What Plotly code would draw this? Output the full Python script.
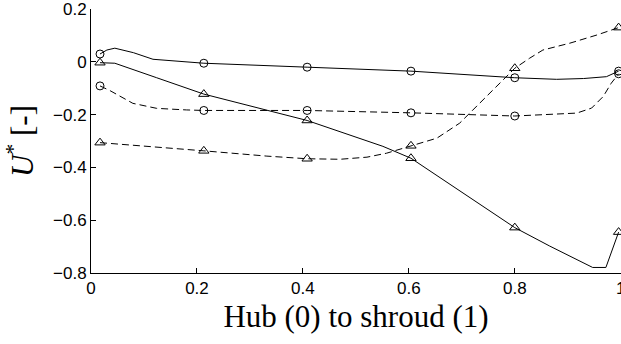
import plotly.graph_objects as go

# Marker positions (hub to shroud)
marker_x = [0.017, 0.213, 0.408, 0.604, 0.8, 0.996]

# Series A: solid line, circles
a_marker_y = [0.03, -0.005, -0.02, -0.035, -0.06, -0.035]
a_line_x = [0.017, 0.03, 0.045, 0.08, 0.117, 0.168, 0.213, 0.408, 0.604, 0.8, 0.842, 0.879, 0.93, 0.973, 0.996]
a_line_y = [0.03, 0.045, 0.052, 0.035, 0.01, 0.001, -0.005, -0.02, -0.035, -0.06, -0.064, -0.066, -0.063, -0.056, -0.035]

# Series B: solid line, triangles
b_marker_y = [-0.003, -0.122, -0.222, -0.365, -0.628, -0.645]
b_line_x = [0.017, 0.045, 0.124, 0.213, 0.408, 0.551, 0.604, 0.8, 0.866, 0.947, 0.972, 0.996]
b_line_y = [-0.003, -0.005, -0.06, -0.122, -0.222, -0.32, -0.365, -0.628, -0.698, -0.779, -0.779, -0.645]

# Series C: dashed line, circles
c_marker_y = [-0.091, -0.184, -0.184, -0.193, -0.205, -0.045]
c_line_x = [0.017, 0.036, 0.079, 0.124, 0.18, 0.213, 0.408, 0.604, 0.8, 0.917, 0.945, 0.967, 0.982, 0.996]
c_line_y = [-0.091, -0.109, -0.157, -0.176, -0.182, -0.184, -0.184, -0.193, -0.205, -0.194, -0.175, -0.131, -0.081, -0.045]

# Series D: dashed line, triangles
d_marker_y = [-0.306, -0.337, -0.367, -0.318, -0.024, 0.13]
d_line_x = [0.017, 0.1, 0.213, 0.332, 0.408, 0.47, 0.521, 0.558, 0.604, 0.653, 0.696, 0.728, 0.766, 0.8, 0.828, 0.853, 0.904, 0.955, 0.996]
d_line_y = [-0.306, -0.318, -0.337, -0.357, -0.367, -0.369, -0.361, -0.346, -0.318, -0.289, -0.232, -0.169, -0.093, -0.024, 0.014, 0.045, 0.071, 0.102, 0.13]

x_ticks = [0, 0.2, 0.4, 0.6, 0.8, 1]
x_ticktext = ["0", "0.2", "0.4", "0.6", "0.8", "1"]
y_ticks = [-0.8, -0.6, -0.4, -0.2, 0, 0.2]
y_ticktext = ["\u22120.8", "\u22120.6", "\u22120.4", "\u22120.2", "0", "0.2"]

DASH = "7px,4px"
fig = go.Figure()

series = [
    (a_line_x, a_line_y, a_marker_y, "solid", "circle-open", 8),
    (b_line_x, b_line_y, b_marker_y, "solid", "triangle-up-open", 9),
    (c_line_x, c_line_y, c_marker_y, DASH, "circle-open", 8),
    (d_line_x, d_line_y, d_marker_y, DASH, "triangle-up-open", 9),
]
for lx, ly, my, dash, sym, sz in series:
    fig.add_trace(go.Scatter(x=lx, y=ly, mode="lines",
                             line=dict(color="black", width=1, dash=dash),
                             showlegend=False, hoverinfo="skip", cliponaxis=False))
    fig.add_trace(go.Scatter(x=marker_x, y=my, mode="markers",
                             marker=dict(symbol=sym, size=sz, color="black",
                                         line=dict(color="black", width=1)),
                             showlegend=False, cliponaxis=False))

fig.update_layout(
    width=621, height=344,
    margin=dict(l=91, r=0, t=9, b=71, autoexpand=False),
    paper_bgcolor="white", plot_bgcolor="white",
    font=dict(family="Liberation Sans, Arial", size=17, color="black"),
)
fig.update_xaxes(
    range=[0, 1.0005], tickvals=x_ticks, ticktext=x_ticktext, automargin=False,
    showgrid=False, zeroline=False, showline=True, linecolor="black", linewidth=1,
    ticks="inside", ticklen=5, tickcolor="black", ticklabeloverflow="allow",
    title=dict(text="Hub (0) to shroud (1)",
               font=dict(family="Liberation Serif, Times New Roman", size=31),
               standoff=7),
)
fig.update_yaxes(
    range=[-0.8, 0.2005], tickvals=y_ticks, ticktext=y_ticktext, automargin=False,
    showgrid=False, zeroline=False, showline=True, linecolor="black", linewidth=1,
    ticks="inside", ticklen=5, tickcolor="black", ticklabeloverflow="allow",
    title=dict(text="<i>U</i><sup>*</sup> [-]",
               font=dict(family="Liberation Serif, Times New Roman", size=31),
               standoff=10),
)

fig.write_html("out.html")
